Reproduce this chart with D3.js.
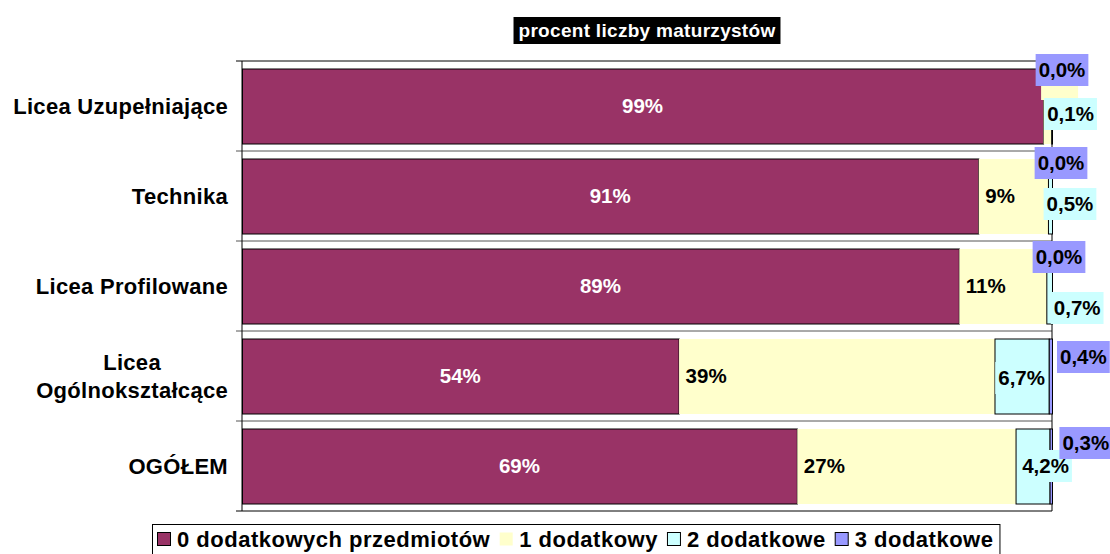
<!DOCTYPE html>
<html>
<head>
<meta charset="utf-8">
<script src="https://cdn.jsdelivr.net/npm/d3@7"></script>
<style>
  body { margin: 0; background: #fff; }
  svg text { font-family: "Liberation Sans", Arial, sans-serif; font-weight: bold; }
</style>
</head>
<body>
<div id="chart"></div>
<script>
// values (percent of each row)
var categories = ["Licea Uzupełniające", "Technika", "Licea Profilowane", "Licea Ogólnokształcące", "OGÓŁEM"];
var seriesNames = ["0 dodatkowych przedmiotów", "1 dodatkowy", "2 dodatkowe", "3 dodatkowe"];
var zeroExtra = [98.9, 90.9, 88.5, 53.9, 68.5];
var oneExtra = [1.0, 8.6, 10.8, 39.0, 27.0];
var twoExtra = [0.1, 0.5, 0.7, 6.7, 4.2];
var threeExtra = [0.0, 0.0, 0.0, 0.4, 0.3];
var title = "procent liczby maturzystów";

var colors = ["#993366", "#FFFFCC", "#CCFFFF", "#9999FF"];
var strokes = ["#000", "none", "#000", "#000"];

// hand placed label nudges (dx, dy from segment centre / band centre), like the original
var nudge2 = [[19, 8], [20, 8], [28, 22], [0, 2], [13, 0]];
var nudge3 = [[10, -36], [9, -33], [7, -29], [33, -19], [35, -23]];

var W = 1110, H = 554;
var svg = d3.select("#chart").append("svg")
    .attr("width", W)
    .attr("height", H);

var x = d3.scaleLinear().domain([0, 100]).range([242, 1052]);
var y = d3.scaleBand().domain(categories).range([61, 511])
    .paddingInner(1 / 6).paddingOuter(1 / 12);

var table = categories.map(function(c, i){
	return { cat: c, s0: zeroExtra[i], s1: oneExtra[i], s2: twoExtra[i], s3: threeExtra[i] };
});
var stack = d3.stack().keys(["s0", "s1", "s2", "s3"])(table);

// category boundaries (ticks + gridlines)
var step = y.step();
var bounds = d3.range(categories.length + 1).map(function(i){ return 61 + i * step; });
svg.append("g").selectAll("line").data(bounds).enter().append("line")
    .attr("x1", 236).attr("x2", 1052)
    .attr("y1", function(d){ return d; }).attr("y2", function(d){ return d; })
    .attr("stroke", function(d, i){ return (i == 0 || i == categories.length) ? "#000" : "#555"; })
    .attr("stroke-width", 1);

svg.append("line").attr("x1", x(0)).attr("x2", x(0)).attr("y1", 61).attr("y2", 511)
    .attr("stroke", "#000");
svg.append("line").attr("x1", x(100)).attr("x2", x(100)).attr("y1", 61).attr("y2", 511)
    .attr("stroke", "#000");

// bars
stack.forEach(function(layer, si){
	svg.append("g").selectAll("rect").data(layer).enter().append("rect")
	    .attr("x", function(d){ return x(d[0]) + 0.5; })
	    .attr("y", function(d){ return y(d.data.cat) + 0.5; })
	    .attr("width", function(d){ return Math.max(0, x(d[1]) - x(d[0])); })
	    .attr("height", y.bandwidth())
	    .attr("fill", colors[si])
	    .attr("stroke", strokes[si])
	    .attr("stroke-width", 1);
});

function pct0(v){ return Math.round(v) + "%"; }
function pct1(v){ return v.toFixed(1).replace(".", ",") + "%"; }

var labelSize = 20.5;

function boxedLabel(cx, cy, txt, bg, color){
	var g = svg.append("g");
	var r = g.append("rect").attr("fill", bg);
	var t = g.append("text")
	    .attr("x", cx).attr("y", cy + 7)
	    .attr("text-anchor", "middle")
	    .attr("font-size", labelSize)
	    .attr("fill", color)
	    .text(txt);
	var w = t.node().getComputedTextLength();
	r.attr("x", cx - w / 2 - 3).attr("y", cy - 16).attr("width", w + 6).attr("height", 32);
}

// series 0: white, centred
stack[0].forEach(function(d){
	var cx = (x(d[0]) + x(d[1])) / 2, cy = y(d.data.cat) + y.bandwidth() / 2;
	svg.append("text").attr("x", cx).attr("y", cy + 7)
	    .attr("text-anchor", "middle")
	    .attr("font-size", labelSize)
	    .attr("fill", "#fff")
	    .text(pct0(d[1] - d[0]));
});

// series 1: left side of the segment; the tiny one only shows its box behind the others
stack[1].forEach(function(d){
	var cy = y(d.data.cat) + y.bandwidth() / 2;
	var v = d[1] - d[0];
	if(v < 2){
		svg.append("rect").attr("x", x(d[0]) - 2).attr("y", cy - 42)
		    .attr("width", 37).attr("height", 36).attr("fill", colors[1]);
		return;
	}
	svg.append("text").attr("x", x(d[0]) + 7).attr("y", cy + 7)
	    .attr("font-size", labelSize)
	    .attr("fill", "#000")
	    .text(pct0(v));
});

stack[2].forEach(function(d, i){
	var cx = (x(d[0]) + x(d[1])) / 2, cy = y(d.data.cat) + y.bandwidth() / 2;
	boxedLabel(cx + nudge2[i][0], cy + nudge2[i][1], pct1(d[1] - d[0]), colors[2], "#000");
});
stack[3].forEach(function(d, i){
	var cx = (x(d[0]) + x(d[1])) / 2, cy = y(d.data.cat) + y.bandwidth() / 2;
	boxedLabel(cx + nudge3[i][0], cy + nudge3[i][1], pct1(d[1] - d[0]), colors[3], "#000");
});

// category labels, wrapped when too wide
var catSize = 22, catSpacing = 0.3;
var catG = svg.append("g");
categories.forEach(function(c){
	var cy = y(c) + y.bandwidth() / 2;
	var t = catG.append("text").attr("x", 228).attr("y", cy + 7.5)
	    .attr("text-anchor", "end")
	    .attr("font-size", catSize).attr("letter-spacing", catSpacing)
	    .text(c);
	if(t.node().getComputedTextLength() > 222){
		t.remove();
		var words = c.split(" ");
		var lines = catG.selectAll(null).data(words).enter().append("text")
		    .attr("y", function(d, i){ return cy + 7.5 - 14 + i * 28; })
		    .attr("text-anchor", "middle")
		    .attr("font-size", catSize).attr("letter-spacing", catSpacing)
		    .text(function(d){ return d; });
		var maxW = d3.max(lines.nodes(), function(n){ return n.getComputedTextLength(); });
		lines.attr("x", 228 - maxW / 2);
	}
});

// title
var tg = svg.append("g");
var tr = tg.append("rect").attr("fill", "#000");
var tt = tg.append("text").attr("x", (x(0) + x(100)) / 2).attr("y", 37)
    .attr("text-anchor", "middle")
    .attr("font-size", 19).attr("letter-spacing", 0.3)
    .attr("fill", "#fff")
    .text(title);
var tw = tt.node().getComputedTextLength();
tr.attr("x", (x(0) + x(100)) / 2 - tw / 2 - 5).attr("y", 17).attr("width", tw + 10).attr("height", 27);

// legend
var lg = svg.append("g");
var lbox = lg.append("rect").attr("x", 152.5).attr("y", 524.5).attr("height", 40)
    .attr("fill", "#fff").attr("stroke", "#000");
var lx = 157;
seriesNames.forEach(function(s, i){
	lg.append("rect").attr("x", lx + 0.5).attr("y", 532.5).attr("width", 13).attr("height", 13)
	    .attr("fill", colors[i]).attr("stroke", strokes[i]);
	var t = lg.append("text").attr("x", lx + 20).attr("y", 546.5)
	    .attr("font-size", catSize).attr("letter-spacing", 0.5)
	    .text(s);
	lx = lx + 20 + t.node().getComputedTextLength() + 9;
});
lbox.attr("width", lx - 152 - 3);
</script>
</body>
</html>
